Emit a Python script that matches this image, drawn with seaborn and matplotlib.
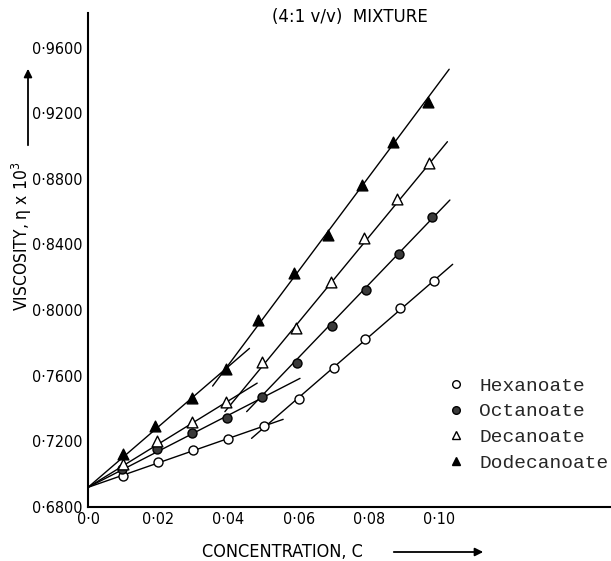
import matplotlib
matplotlib.use("Agg")
import matplotlib.pyplot as plt
import seaborn as sns
import pandas as pd

# ---------------- data ----------------
hex_c = [0.010, 0.020, 0.030, 0.040, 0.050, 0.060, 0.070, 0.079, 0.089, 0.0987]
hex_v = [0.6987, 0.7075, 0.7146, 0.7213, 0.7292, 0.7459, 0.7648, 0.7821, 0.8011, 0.8179]

oct_c = [0.0096, 0.0196, 0.0295, 0.0397, 0.0495, 0.0595, 0.0694, 0.0792, 0.0887, 0.0979]
oct_v = [0.7030, 0.7150, 0.7248, 0.7344, 0.7467, 0.7675, 0.7904, 0.8122, 0.8342, 0.8569]

dec_c = [0.010, 0.0196, 0.0295, 0.0393, 0.0495, 0.0593, 0.0691, 0.0786, 0.0881, 0.0972]
dec_v = [0.7061, 0.7201, 0.7319, 0.7441, 0.7685, 0.7893, 0.8173, 0.8438, 0.8677, 0.8895]

dodec_c = [0.0099, 0.0192, 0.0295, 0.0393, 0.0485, 0.0587, 0.0685, 0.0780, 0.0868, 0.0970]
dodec_v = [0.7122, 0.7292, 0.7461, 0.7640, 0.7939, 0.8224, 0.8458, 0.8763, 0.9027, 0.9271]

# fitted straight lines (two per series: below / above the break)
hex_low_c, hex_low_v = [0.0, 0.0556], [0.6918, 0.7333]
hex_high_c, hex_high_v = [0.0466, 0.1039], [0.7217, 0.8279]
oct_low_c, oct_low_v = [0.0, 0.0604], [0.6918, 0.7583]
oct_high_c, oct_high_v = [0.0452, 0.1031], [0.7380, 0.8671]
dec_low_c, dec_low_v = [0.0, 0.0482], [0.6918, 0.7554]
dec_high_c, dec_high_v = [0.0390, 0.1024], [0.7380, 0.9027]
dodec_low_c, dodec_low_v = [0.0, 0.0460], [0.6918, 0.7766]
dodec_high_c, dodec_high_v = [0.0355, 0.1029], [0.7536, 0.9469]

series_names = ["Hexanoate", "Octanoate", "Decanoate", "Dodecanoate"]
y_ticks = [0.68, 0.72, 0.76, 0.80, 0.84, 0.88, 0.92, 0.96]
y_tick_labels = ["0·6800", "0·7200", "0·7600", "0·8000", "0·8400", "0·8800", "0·9200", "0·9600"]
x_ticks = [0.0, 0.02, 0.04, 0.06, 0.08, 0.10]
x_tick_labels = ["0·0", "0·02", "0·04", "0·06", "0·08", "0·10"]

# ---------------- figure ----------------
sns.set_style("white")
plt.rcParams["font.family"] = ["DejaVu Sans"]
plt.rcParams["font.stretch"] = "condensed"

W, H = 611, 561
fig = plt.figure(figsize=(W / 100, H / 100), dpi=100)
ax = fig.add_axes([88 / W, (H - 506.7) / H, (W - 88) / W, (506.7 - 13) / H])

lines = [
    (hex_low_c, hex_low_v), (hex_high_c, hex_high_v),
    (oct_low_c, oct_low_v), (oct_high_c, oct_high_v),
    (dec_low_c, dec_low_v), (dec_high_c, dec_high_v),
    (dodec_low_c, dodec_low_v), (dodec_high_c, dodec_high_v),
]
for xc, yv in lines:
    sns.lineplot(x=xc, y=yv, ax=ax, color="black", linewidth=1.0,
                 estimator=None, sort=False, legend=False)

styles = [
    (hex_c, hex_v, "o", "white", 42),
    (oct_c, oct_v, "o", "#3a3a3a", 42),
    (dec_c, dec_v, "^", "white", 60),
    (dodec_c, dodec_v, "^", "black", 60),
]
handles = []
for (xc, yv, m, fc, s), name in zip(styles, series_names):
    df = pd.DataFrame({"C": xc, "V": yv})
    sns.scatterplot(data=df, x="C", y="V", ax=ax, marker=m, s=s,
                    facecolor=fc, edgecolor="black", linewidth=1.0,
                    zorder=3, legend=False)
    h = plt.Line2D([], [], linestyle="none", marker=m, markersize=5.5,
                   markerfacecolor=fc, markeredgecolor="black",
                   markeredgewidth=1.0, label=name)
    handles.append(h)

ax.set_xlim(0, (W - 88) / 3510)
ax.set_ylim(0.68, 0.68 + (506.7 - 13) / 1639)
ax.set_xticks(x_ticks)
ax.set_xticklabels(x_tick_labels)
ax.set_yticks(y_ticks)
ax.set_yticklabels(y_tick_labels)
ax.tick_params(axis="both", direction="in", length=9, width=1.2,
               labelsize=11.5, colors="black")
ax.tick_params(axis="y", pad=4)
ax.tick_params(axis="x", pad=4)
ax.set_xlabel("")
ax.set_ylabel("")
for sp in ["top", "right"]:
    ax.spines[sp].set_visible(False)
for sp in ["left", "bottom"]:
    ax.spines[sp].set_color("black")
    ax.spines[sp].set_linewidth(1.5)

leg = ax.legend(handles=handles, frameon=False, loc="upper left",
                bbox_to_anchor=(448 / W, 1 - 377 / H),
                bbox_transform=fig.transFigure,
                prop={"family": "Liberation Mono", "size": 14},
                handlelength=0.8, handletextpad=0.8, labelspacing=0.42,
                borderaxespad=0, borderpad=0)

# title and axis labels
fig.text(350 / W, 1 - 17 / H, "(4:1 v/v)  MIXTURE", ha="center", va="center",
         fontsize=12, fontstretch="normal", color="black")
fig.text(22 / W, 1 - 236 / H, "VISCOSITY, η x 10$^3$", rotation=90,
         ha="center", va="center", fontsize=12.5, color="black")
fig.text(282 / W, 1 - 552 / H, "CONCENTRATION, C", ha="center", va="center",
         fontsize=13, color="black")
fig.add_artist(matplotlib.patches.FancyArrowPatch(
    (28 / W, 1 - 148 / H), (28 / W, 1 - 66 / H), transform=fig.transFigure,
    arrowstyle="-|>", mutation_scale=12, color="black", linewidth=1.3))
fig.add_artist(matplotlib.patches.FancyArrowPatch(
    (391 / W, 1 - 552 / H), (486 / W, 1 - 552 / H), transform=fig.transFigure,
    arrowstyle="-|>", mutation_scale=12, color="black", linewidth=1.3))

fig.savefig("out.png", dpi=100)
